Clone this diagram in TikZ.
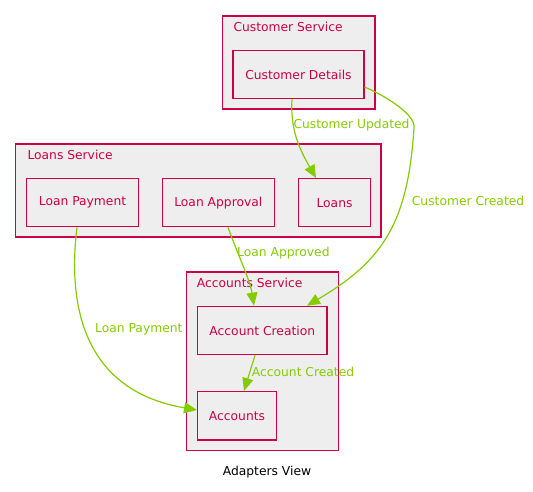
\documentclass[tikz,border=0pt]{standalone}
\usepackage{fontspec}
\setmainfont{DejaVu Sans}
\usetikzlibrary{arrows.meta}
\definecolor{crim}{RGB}{204,0,68}
\definecolor{gfill}{RGB}{238,238,238}
\definecolor{egreen}{RGB}{132,204,0}
\tikzset{
  every node/.style={font=\fontsize{12.3}{14}\selectfont},
  cluster/.style={draw=crim, fill=gfill, line width=1.3pt, inner sep=0pt},
  comp/.style={draw=crim, fill=gfill, line width=1.3pt, text=crim, inner sep=0pt, minimum height=48pt},
  clabel/.style={text=crim, anchor=west, inner sep=0pt},
  elabel/.style={text=egreen, anchor=west, inner sep=0pt},
  edge/.style={draw=egreen, line width=1.2pt, -{Triangle[length=13pt,width=11pt]}},
}
\begin{document}
\begin{tikzpicture}[x=1pt,y=-1pt]
\useasboundingbox (0,0) rectangle (533,492);
% clusters
\node[cluster, minimum width=152.5pt, minimum height=93pt] (CS) at (298.75,62.5) {};
\node[cluster, minimum width=365.3pt, minimum height=93pt] (LS) at (198.35,190.5) {};
\node[cluster, minimum width=151.6pt, minimum height=178.3pt] (AS) at (262.5,361.15) {};
\node[clabel] (CSl) at (233.3,26.5) {Customer Service};
\node[clabel] (LSl) at (27.3,154.8) {Loans Service};
\node[clabel] (ASl) at (196.7,282.8) {Accounts Service};
% components
\node[comp, minimum width=131pt] (CD) at (298.5,74.7) {Customer Details};
\node[comp, minimum width=112.4pt] (LP) at (82.5,202.7) {Loan Payment};
\node[comp, minimum width=112pt] (LA) at (218.3,202.7) {Loan Approval};
\node[comp, minimum width=72.4pt] (Lo) at (334.5,202.7) {Loans};
\node[comp, minimum width=129.3pt, minimum height=48.4pt] (AC) at (262.3,330.5) {Account Creation};
\node[comp, minimum width=78.6pt, minimum height=48.3pt] (Acc) at (237,415.8) {Accounts};
% edges
\coordinate (bend) at (414,128);
\draw[edge] ([xshift=-6.5pt]CD.south) .. controls (290,130) and (300,150) .. ([xshift=-18.5pt]Lo.north);
\draw[edge] ([yshift=-12.3pt]CD.east) .. controls (390,98) and (416,116) .. (bend)
  .. controls (408,220) and (385,260) .. ([xshift=44.7pt]AC.north);
\draw[edge] ([xshift=9.7pt]LA.south) .. controls (238,255) and (250,280) .. ([xshift=-8.3pt]AC.north);
\draw[edge] ([xshift=-5.5pt]LP.south) .. controls (68,300) and (80,390) .. ([yshift=5.8pt]Acc.west);
\draw[edge] ([xshift=-7.3pt]AC.south) -- ([xshift=7pt]Acc.north);
% edge labels
\node[elabel] (l1) at (293.3,125.5) {Customer Updated};
\node[elabel] (l2) at (411.7,201.2) {Customer Created};
\node[elabel] (l3) at (237,253.5) {Loan Approved};
\node[elabel] (l4) at (95,329.5) {Loan Payment};
\node[elabel] (l5) at (251.7,371.5) {Account Created};
\node[text=black] (title) at (267,472.5) {Adapters View};
\end{tikzpicture}
\end{document}
